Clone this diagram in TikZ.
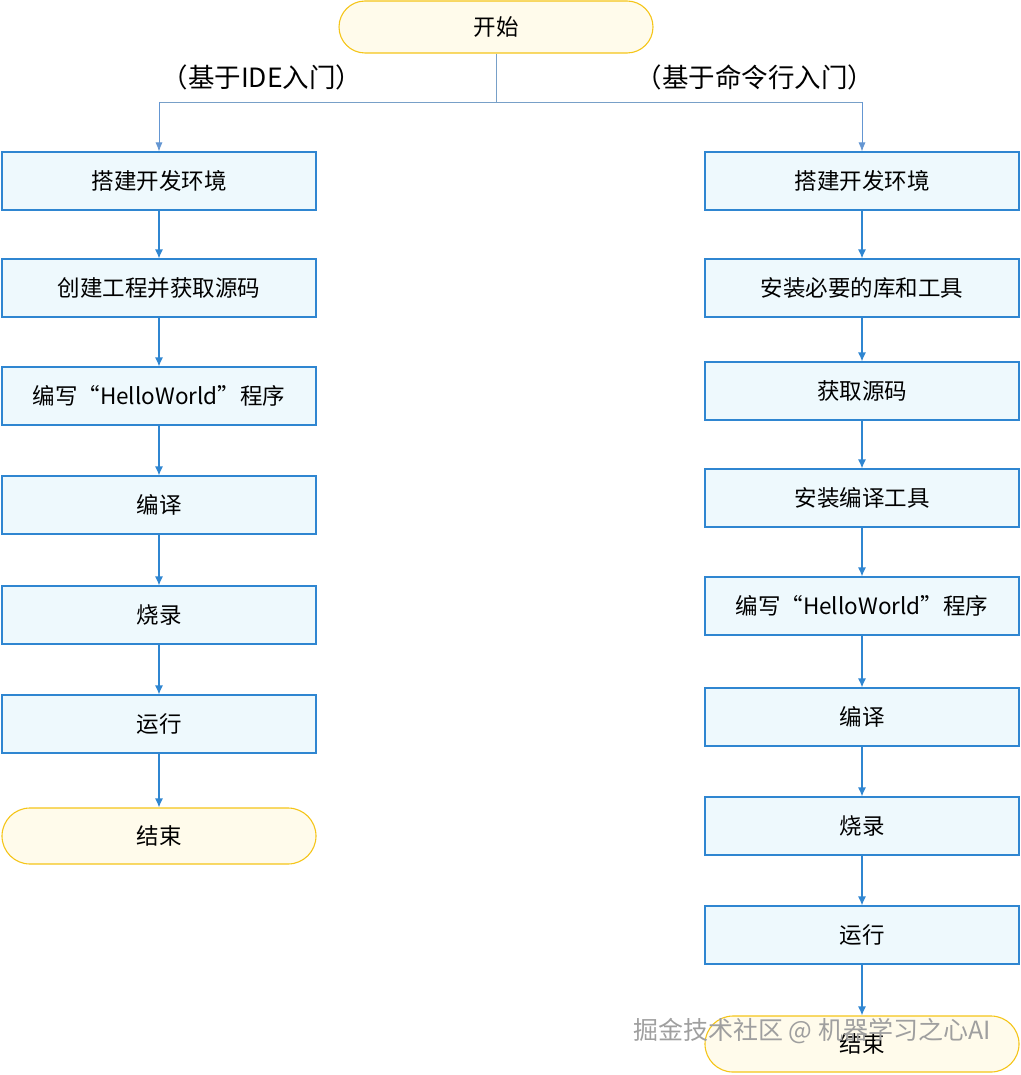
\documentclass[tikz,border=0pt]{standalone}
\usepackage{fontspec}
\setmainfont{Noto Sans CJK SC}
\usepackage{tikz}
\usetikzlibrary{arrows.meta}
\begin{document}
\begin{tikzpicture}[x=1pt,y=1pt,yscale=-1,font=\fontsize{22.5}{26}\selectfont,
  box/.style={draw={rgb,255:red,47;green,134;blue,209},fill={rgb,255:red,238;green,249;blue,253},line width=1.1pt,minimum width=314pt,minimum height=58pt,inner sep=0pt},
  term/.style={draw={rgb,255:red,245;green,197;blue,24},fill={rgb,255:red,255;green,251;blue,235},line width=1.1pt,rounded corners=26pt,minimum width=314pt,minimum height=52pt,inner sep=0pt},
  arr/.style={draw={rgb,255:red,47;green,134;blue,209},line width=1.3pt,-{Latex[length=9pt,width=8pt]}},
  br/.style={draw={rgb,255:red,120;green,160;blue,200},line width=0.8pt}]
\useasboundingbox (0,0) rectangle (1020,1075);
%Start
\node[term] (start) at (496,27) {开始};
\coordinate (fork) at (496,102);
\coordinate (forkL) at (159,102);
\coordinate (forkR) at (862,102);
\node[font=\fontsize{26.5}{30}\selectfont] (labL) at (262,77) {（基于IDE入门）};
\node[font=\fontsize{26.5}{30}\selectfont] (labR) at (755,77) {（基于命令行入门）};
%Left column
\node[box] (l1) at (159,181) {搭建开发环境};
\node[box] (l2) at (159,288) {创建工程并获取源码};
\node[box] (l3) at (159,396) {编写“HelloWorld”程序};
\node[box] (l4) at (159,505) {编译};
\node[box] (l5) at (159,615) {烧录};
\node[box] (l6) at (159,724) {运行};
\node[term,minimum height=56pt,rounded corners=28pt] (lend) at (159,836) {结束};
%Right column
\node[box] (r1) at (862,181) {搭建开发环境};
\node[box] (r2) at (862,288) {安装必要的库和工具};
\node[box] (r3) at (862,391) {获取源码};
\node[box] (r4) at (862,498) {安装编译工具};
\node[box] (r5) at (862,606) {编写“HelloWorld”程序};
\node[box] (r6) at (862,717) {编译};
\node[box] (r7) at (862,826) {烧录};
\node[box] (r8) at (862,935) {运行};
\node[term,minimum height=56pt,rounded corners=28pt] (rend) at (862,1044) {结束};
%Connectors
\draw[br] (start) -- (fork) -- (forkL);
\draw[br] (fork) -- (forkR);
\draw[br,-{Latex[length=9pt,width=7pt]},draw={rgb,255:red,100;green,150;blue,210}] (forkL) -- (l1);
\draw[br,-{Latex[length=9pt,width=7pt]},draw={rgb,255:red,100;green,150;blue,210}] (forkR) -- (r1);
\foreach \a/\b in {l1/l2,l2/l3,l3/l4,l4/l5,l5/l6,l6/lend,r1/r2,r2/r3,r3/r4,r4/r5,r5/r6,r6/r7,r7/r8,r8/rend}
  \draw[arr] (\a) -- (\b);
\node[text=gray!75,font=\fontsize{25}{28}\selectfont] (mark) at (812,1031) {掘金技术社区 @ 机器学习之心AI};
\end{tikzpicture}
\end{document}
